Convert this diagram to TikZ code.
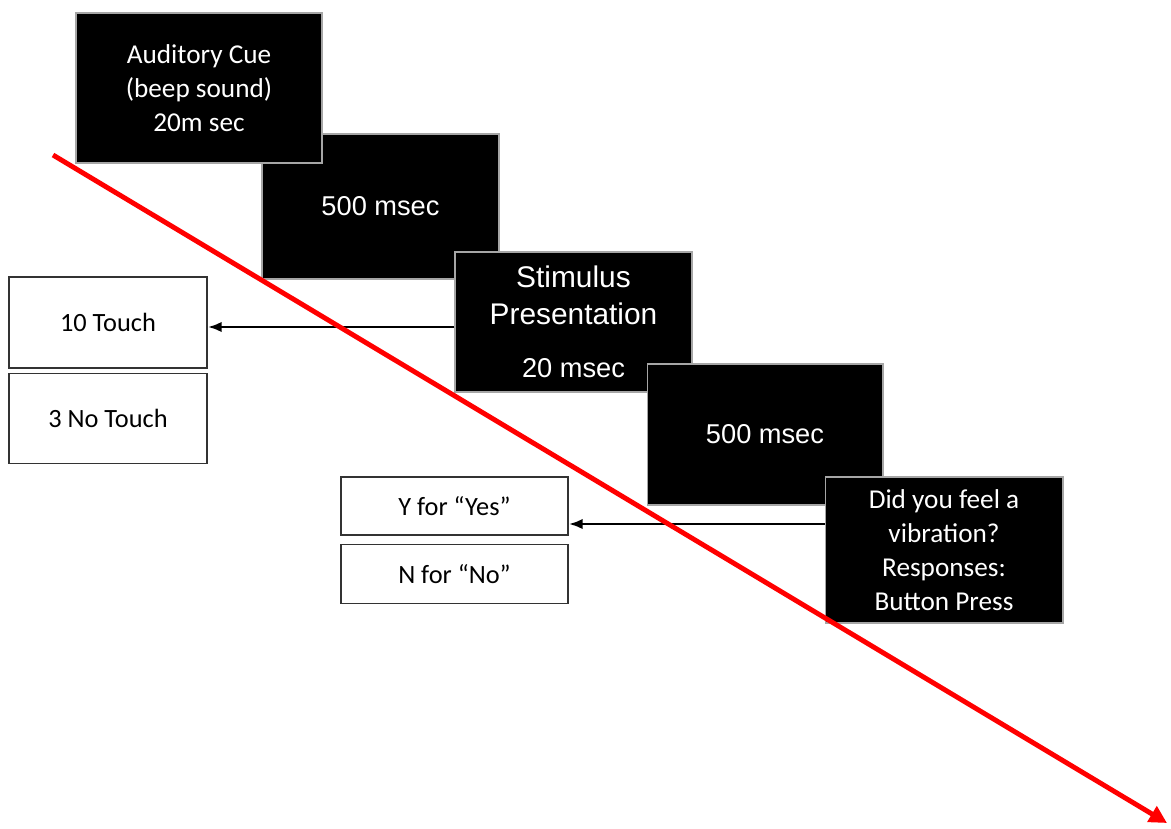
\documentclass[tikz,border=0pt]{standalone}
\usepackage{fontspec}
\setmainfont{Carlito}
\newfontfamily\arialfont{Liberation Sans}
\usepackage{tikz}
\usetikzlibrary{arrows.meta,positioning}

\begin{document}
\begin{tikzpicture}[x=0.02cm,y=-0.02cm,
    screen/.style={rectangle,fill=black,draw=gray!70,line width=0.6pt,text=white,
      align=center,inner sep=0pt,font=\fontsize{15.5}{19.3}\selectfont},
    timing/.style={screen,font=\arialfont\fontsize{15.5}{19}\selectfont},
    answer/.style={rectangle,draw=black!80,line width=0.8pt,fill=white,align=center,
      inner sep=0pt,font=\fontsize{15}{18}\selectfont},
    resp/.style={-{Latex[length=8pt,width=6pt]},line width=1.6pt},
    timeline/.style={-{Triangle[length=10pt,width=10pt]},red,line width=2.8pt}]

    \useasboundingbox (0,0) rectangle (1171,829);

    % trial screens
    \node[timing,minimum width=4.74cm,minimum height=2.9cm] (isi1) at (380.5,206.5)
    {500 msec};
    \node[screen,minimum width=4.92cm,minimum height=3cm] (cue) at (199,88)
    {Auditory Cue\\(beep sound)\\20m sec};
    \node[timing,minimum width=4.74cm,minimum height=2.8cm,
      font=\arialfont\fontsize{17}{21}\selectfont] (stim) at (573.5,322)
    {Stimulus\\Presentation\\[9pt]\fontsize{15.5}{19}\selectfont 20 msec};
    \node[timing,minimum width=4.72cm,minimum height=2.82cm] (isi2) at (765,434.5)
    {500 msec};
    \node[screen,minimum width=4.76cm,minimum height=2.92cm] (ask) at (944,550)
    {Did you feel a\\vibration?\\Responses:\\Button Press};

    % stimulus types
    \node[answer,minimum width=3.96cm,minimum height=1.82cm] (touch) at (108,322.5)
    {10 Touch};
    \node[answer,minimum width=3.96cm,minimum height=1.8cm,below=0.08cm of touch] (notouch)
    {3 No Touch};

    % response keys
    \node[answer,minimum width=4.54cm,minimum height=1.16cm] (yes) at (454.5,506)
    {Y for “Yes”};
    \node[answer,minimum width=4.54cm,minimum height=1.18cm,below=0.16cm of yes] (no)
    {N for “No”};

    \draw[resp] ([yshift=-0.1cm]stim.west) coordinate (s) -- (s -| touch.east);
    \draw[resp] ([yshift=0.52cm]ask.west) coordinate (r) -- (r -| yes.east);

    % time axis
    \coordinate (t0) at (53,155);
    \coordinate (t1) at (1167,823);
    \draw[timeline] (t0) -- (t1);
\end{tikzpicture}
\end{document}
